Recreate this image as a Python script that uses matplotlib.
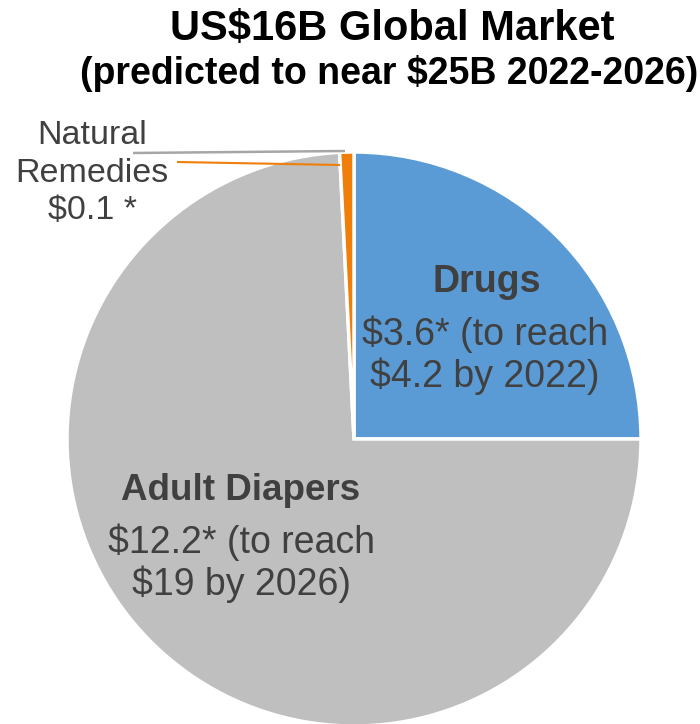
import matplotlib
matplotlib.use("Agg")
import matplotlib.pyplot as plt

plt.rcParams['font.family'] = ['Liberation Sans', 'DejaVu Sans']

# Data
categories = ["Drugs", "Adult Diapers", "Natural Remedies"]
slice_share = [25.0, 74.2, 0.8]   # share of the pie as drawn (%)
value_labels = ["$3.6* (to reach\n$4.2 by 2022)", "$12.2* (to reach\n$19 by 2026)", "$0.1 *"]
colors = ["#5B9BD5", "#BFBFBF", "#F07F09"]
title_lines = ["US$16B Global Market", "(predicted to near $25B 2022-2026)"]

W, H = 700, 724
fig = plt.figure(figsize=(W / 100, H / 100), dpi=100)
ax = fig.add_axes([0, 0, 1, 1])

cx, cy, r = 354, 439, 287
# y axis is inverted below, so counterclock in data = clockwise on screen
ax.pie(slice_share, colors=colors, startangle=-90, counterclock=True,
       center=(cx, cy), radius=r, frame=True,
       wedgeprops=dict(edgecolor='white', linewidth=2.5))
ax.set_xlim(0, W)
ax.set_ylim(H, 0)
ax.set_aspect('equal')
ax.axis('off')

txt = "#404040"
ax.text(392, 29, title_lines[0], ha='center', va='center', fontsize=30,
        fontweight='bold', color='black')
ax.text(389, 74, title_lines[1], ha='center', va='center', fontsize=27,
        fontweight='bold', color='black')

ax.text(487, 282, categories[0], ha='center', va='center', fontsize=27,
        fontweight='bold', color=txt)
ax.text(485, 355, value_labels[0], ha='center', va='center', fontsize=27,
        color=txt, linespacing=1.15)

ax.text(241, 490, categories[1], ha='center', va='center', fontsize=26.5,
        fontweight='bold', color=txt)
ax.text(241, 563, value_labels[1], ha='center', va='center', fontsize=27,
        color=txt, linespacing=1.15)

ax.text(92, 173, "Natural\nRemedies\n" + value_labels[2], ha='center', va='center',
        fontsize=24.5, color=txt, linespacing=1.28)

# leader lines
ax.plot([133, 345], [153, 151], color="#A6A6A6", lw=1.8, solid_capstyle='butt')
ax.plot([177, 340], [162, 165], color=colors[2], lw=1.5, solid_capstyle='butt')

fig.savefig("out.png", dpi=100)
